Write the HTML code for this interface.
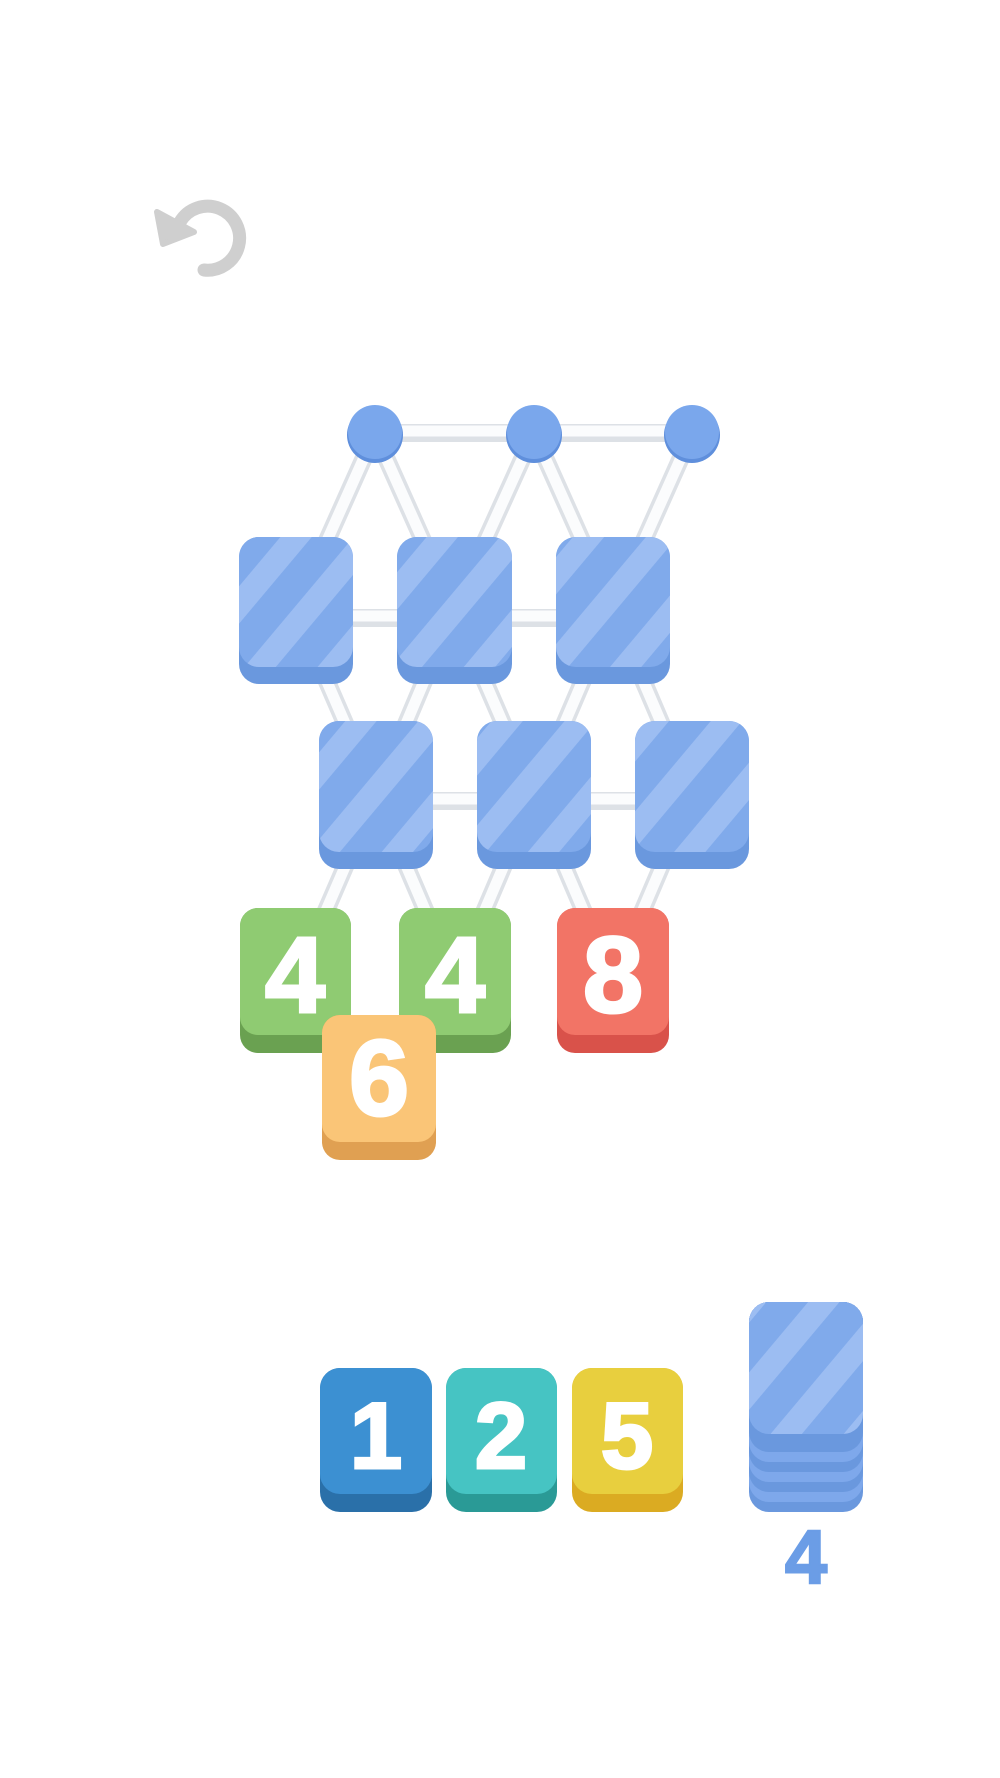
<!DOCTYPE html>
<html><head><style>html,body{margin:0;padding:0;background:#fff;}svg{display:block}</style></head>
<body>
<svg width="1000" height="1778" viewBox="0 0 1000 1778" xmlns="http://www.w3.org/2000/svg">
<defs>
<pattern id="st" patternUnits="userSpaceOnUse" width="56" height="56" patternTransform="rotate(40)">
<rect width="56" height="56" fill="#80aaeb"/><rect width="24" height="56" fill="#9cbdf2"/>
</pattern>
</defs>
<!-- undo -->
<path d="M204 270 A32 32 0 1 0 180 222" fill="none" stroke="#cfcfcf" stroke-width="13" stroke-linecap="round"/>
<polygon points="157,212 194,232 163,244" fill="#cfcfcf" stroke="#cfcfcf" stroke-width="6" stroke-linejoin="round"/>

<!-- struts -->
<g stroke="#dde1e6" stroke-width="18" stroke-linecap="round">
<line x1="375" y1="433" x2="692" y2="433"/>
<line x1="375" y1="433" x2="296" y2="610"/><line x1="375" y1="433" x2="454" y2="610"/>
<line x1="534" y1="433" x2="454" y2="610"/><line x1="534" y1="433" x2="613" y2="610"/>
<line x1="692" y1="433" x2="613" y2="610"/>
<line x1="296" y1="618" x2="613" y2="618"/>
<line x1="296" y1="610" x2="376" y2="795"/><line x1="454" y1="610" x2="376" y2="795"/>
<line x1="454" y1="610" x2="534" y2="795"/><line x1="613" y1="610" x2="534" y2="795"/>
<line x1="613" y1="610" x2="692" y2="795"/>
<line x1="376" y1="801" x2="692" y2="801"/>
<line x1="376" y1="795" x2="296" y2="980"/><line x1="376" y1="795" x2="455" y2="980"/>
<line x1="534" y1="795" x2="455" y2="980"/><line x1="534" y1="795" x2="613" y2="980"/>
<line x1="692" y1="795" x2="613" y2="980"/>
</g>
<g stroke="#fbfcfd" stroke-width="11" stroke-linecap="round">
<line x1="375" y1="431" x2="692" y2="431"/>
<line x1="375" y1="433" x2="296" y2="610"/><line x1="375" y1="433" x2="454" y2="610"/>
<line x1="534" y1="433" x2="454" y2="610"/><line x1="534" y1="433" x2="613" y2="610"/>
<line x1="692" y1="433" x2="613" y2="610"/>
<line x1="296" y1="616" x2="613" y2="616"/>
<line x1="296" y1="610" x2="376" y2="795"/><line x1="454" y1="610" x2="376" y2="795"/>
<line x1="454" y1="610" x2="534" y2="795"/><line x1="613" y1="610" x2="534" y2="795"/>
<line x1="613" y1="610" x2="692" y2="795"/>
<line x1="376" y1="799" x2="692" y2="799"/>
<line x1="376" y1="795" x2="296" y2="980"/><line x1="376" y1="795" x2="455" y2="980"/>
<line x1="534" y1="795" x2="455" y2="980"/><line x1="534" y1="795" x2="613" y2="980"/>
<line x1="692" y1="795" x2="613" y2="980"/>
</g>
<!-- circles -->
<g>
<circle cx="375" cy="435" r="28" fill="#5f8fdc"/><circle cx="375" cy="432" r="27" fill="#7aa7ec"/>
<circle cx="534" cy="435" r="28" fill="#5f8fdc"/><circle cx="534" cy="432" r="27" fill="#7aa7ec"/>
<circle cx="692" cy="435" r="28" fill="#5f8fdc"/><circle cx="692" cy="432" r="27" fill="#7aa7ec"/>
</g>
<!-- blue tiles -->
<g>
<rect x="239" y="537" width="114" height="147" rx="20" fill="#6a98de"/><rect x="239" y="537" width="114" height="130" rx="20" fill="url(#st)"/>
<rect x="397" y="537" width="115" height="147" rx="20" fill="#6a98de"/><rect x="397" y="537" width="115" height="130" rx="20" fill="url(#st)"/>
<rect x="556" y="537" width="114" height="147" rx="20" fill="#6a98de"/><rect x="556" y="537" width="114" height="130" rx="20" fill="url(#st)"/>
<rect x="319" y="721" width="114" height="148" rx="20" fill="#6a98de"/><rect x="319" y="721" width="114" height="131" rx="20" fill="url(#st)"/>
<rect x="477" y="721" width="114" height="148" rx="20" fill="#6a98de"/><rect x="477" y="721" width="114" height="131" rx="20" fill="url(#st)"/>
<rect x="635" y="721" width="114" height="148" rx="20" fill="#6a98de"/><rect x="635" y="721" width="114" height="131" rx="20" fill="url(#st)"/>
</g>
<g font-family="Liberation Sans, sans-serif" font-weight="bold" font-size="108" fill="#fff" stroke="#fff" stroke-width="3" text-anchor="middle">
<rect x="240" y="908" width="111" height="145" rx="18" fill="#6aa151" stroke="none"/><rect x="240" y="908" width="111" height="127" rx="18" fill="#8fcb72" stroke="none"/>
<text x="295" y="1012">4</text>
<rect x="399" y="908" width="112" height="145" rx="18" fill="#6aa151" stroke="none"/><rect x="399" y="908" width="112" height="127" rx="18" fill="#8fcb72" stroke="none"/>
<text x="455" y="1012">4</text>
<rect x="557" y="908" width="112" height="145" rx="18" fill="#d9524a" stroke="none"/><rect x="557" y="908" width="112" height="127" rx="18" fill="#f27466" stroke="none"/>
<text x="613" y="1012">8</text>
<rect x="322" y="1015" width="114" height="145" rx="18" fill="#e0a052" stroke="none"/><rect x="322" y="1015" width="114" height="127" rx="18" fill="#fac577" stroke="none"/>
<text x="379" y="1115">6</text>
</g>
<g font-family="Liberation Sans, sans-serif" font-weight="bold" font-size="94" fill="#fff" stroke="#fff" stroke-width="3" text-anchor="middle">
<rect x="320" y="1368" width="112" height="144" rx="20" fill="#2a70a9" stroke="none"/><rect x="320" y="1368" width="112" height="126" rx="20" fill="#3c90d2" stroke="none"/>
<text x="376" y="1468">1</text>
<rect x="446" y="1368" width="111" height="144" rx="20" fill="#2a9a96" stroke="none"/><rect x="446" y="1368" width="111" height="126" rx="20" fill="#46c4c3" stroke="none"/>
<text x="501" y="1468">2</text>
<rect x="572" y="1368" width="111" height="144" rx="20" fill="#dbab22" stroke="none"/><rect x="572" y="1368" width="111" height="126" rx="20" fill="#e8cf3e" stroke="none"/>
<text x="627" y="1468">5</text>
</g>
<!-- stack -->
<rect x="749" y="1302" width="114" height="210" rx="20" fill="#6a98de"/>
<rect x="749" y="1302" width="114" height="200" rx="20" fill="#7ea8eb"/>
<rect x="749" y="1302" width="114" height="190" rx="20" fill="#6a98de"/>
<rect x="749" y="1302" width="114" height="180" rx="20" fill="#7ea8eb"/>
<rect x="749" y="1302" width="114" height="170" rx="20" fill="#6a98de"/>
<rect x="749" y="1302" width="114" height="160" rx="20" fill="#7ea8eb"/>
<rect x="749" y="1302" width="114" height="150" rx="20" fill="#6a98de"/>
<rect x="749" y="1302" width="114" height="132" rx="20" fill="url(#st)"/>
<text x="806" y="1583" font-family="Liberation Sans, sans-serif" font-weight="bold" font-size="76" fill="#6b9de6" stroke="#6b9de6" stroke-width="2" text-anchor="middle">4</text>
</svg>
</body></html>
